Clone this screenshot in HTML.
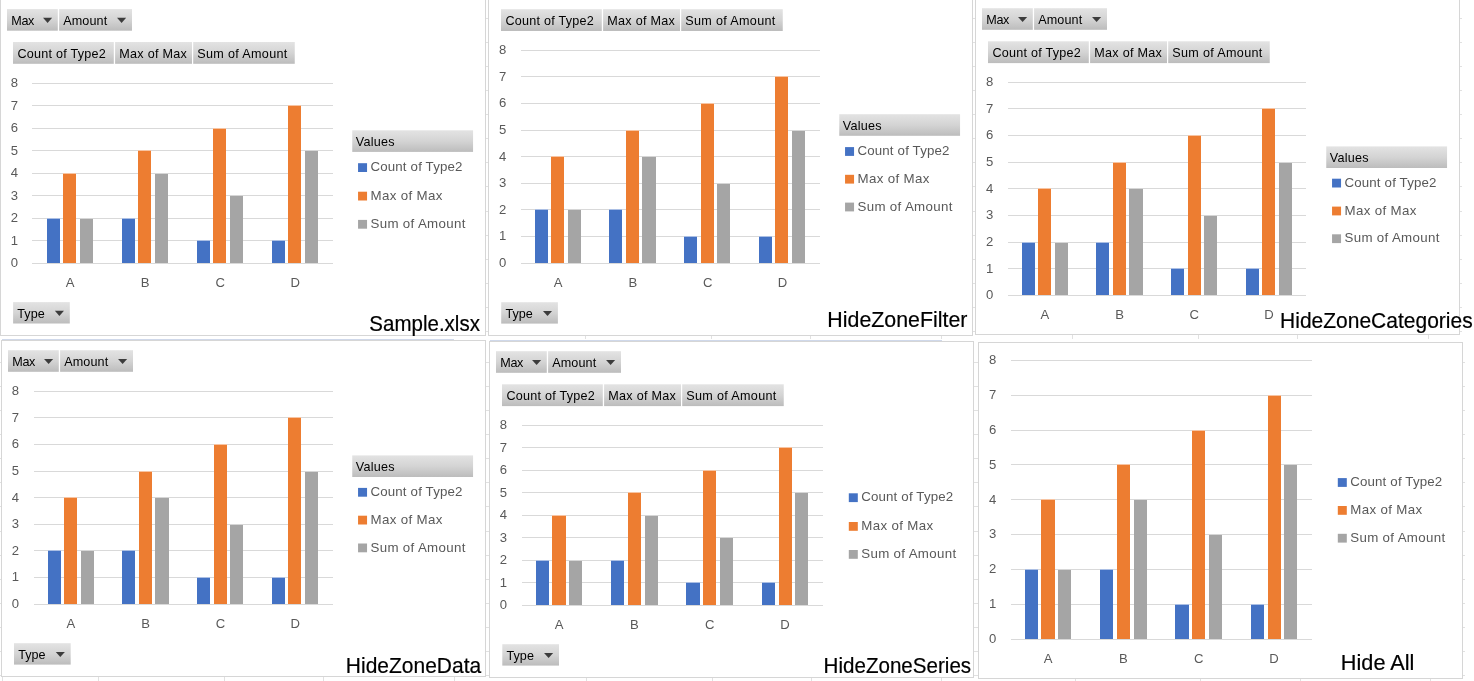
<!DOCTYPE html>
<html lang="en">
<head>
<meta charset="utf-8">
<title>Pivot chart field buttons</title>
<style>
html,body{margin:0;padding:0;background:#fff;}
body{width:1474px;height:681px;overflow:hidden;}
svg{display:block;}
text{font-family:"Liberation Sans","DejaVu Sans",sans-serif;}
.a{font-size:13.1px;fill:#595959;}
.l{font-size:13.3px;fill:#595959;}
.b{font-size:12.6px;fill:#000;}
.t{font-size:21.6px;fill:#000;stroke:#000;stroke-width:0.2px;}
</style>
</head>
<body>
<svg width="1474" height="681" viewBox="0 0 1474 681">
<defs>
<linearGradient id="bg" x1="0" y1="0" x2="0" y2="1">
<stop offset="0" stop-color="#E3E3E3"/>
<stop offset="0.5" stop-color="#D4D4D4"/>
<stop offset="1" stop-color="#BCBCBC"/>
</linearGradient>
</defs>
<rect x="0" y="0" width="1474" height="681" fill="#fff"/>
<rect x="585" y="336" width="1" height="3" fill="#E1E1E1"/>
<rect x="711" y="336" width="1" height="3" fill="#E1E1E1"/>
<rect x="810" y="336" width="1" height="3" fill="#E1E1E1"/>
<rect x="941" y="336" width="1" height="3" fill="#E1E1E1"/>
<rect x="1072" y="335" width="1" height="4" fill="#E1E1E1"/>
<rect x="1198" y="335" width="1" height="4" fill="#E1E1E1"/>
<rect x="1297" y="335" width="1" height="4" fill="#E1E1E1"/>
<rect x="1428" y="335" width="1" height="4" fill="#E1E1E1"/>
<rect x="2" y="677" width="1" height="4" fill="#E1E1E1"/>
<rect x="98" y="677" width="1" height="4" fill="#E1E1E1"/>
<rect x="224" y="677" width="1" height="4" fill="#E1E1E1"/>
<rect x="323" y="677" width="1" height="4" fill="#E1E1E1"/>
<rect x="454" y="677" width="1" height="4" fill="#E1E1E1"/>
<rect x="586" y="678" width="1" height="3" fill="#E1E1E1"/>
<rect x="712" y="678" width="1" height="3" fill="#E1E1E1"/>
<rect x="811" y="678" width="1" height="3" fill="#E1E1E1"/>
<rect x="941" y="678" width="1" height="3" fill="#E1E1E1"/>
<rect x="1075" y="679" width="1" height="2" fill="#E1E1E1"/>
<rect x="1200" y="679" width="1" height="2" fill="#E1E1E1"/>
<rect x="1300" y="679" width="1" height="2" fill="#E1E1E1"/>
<rect x="1430" y="679" width="1" height="2" fill="#E1E1E1"/>
<rect x="0" y="18" width="1462" height="1" fill="#E1E1E1"/>
<rect x="0" y="42" width="1462" height="1" fill="#E1E1E1"/>
<rect x="0" y="66" width="1462" height="1" fill="#E1E1E1"/>
<rect x="0" y="90" width="1462" height="1" fill="#E1E1E1"/>
<rect x="0" y="114" width="1462" height="1" fill="#E1E1E1"/>
<rect x="0" y="138" width="1462" height="1" fill="#E1E1E1"/>
<rect x="0" y="162" width="1462" height="1" fill="#E1E1E1"/>
<rect x="0" y="186" width="1462" height="1" fill="#E1E1E1"/>
<rect x="0" y="211" width="1462" height="1" fill="#E1E1E1"/>
<rect x="0" y="235" width="1462" height="1" fill="#E1E1E1"/>
<rect x="0" y="259" width="1462" height="1" fill="#E1E1E1"/>
<rect x="0" y="283" width="1462" height="1" fill="#E1E1E1"/>
<rect x="0" y="307" width="1462" height="1" fill="#E1E1E1"/>
<rect x="0" y="331" width="1462" height="1" fill="#E1E1E1"/>
<rect x="0" y="362" width="1465" height="1" fill="#E1E1E1"/>
<rect x="0" y="386" width="1465" height="1" fill="#E1E1E1"/>
<rect x="0" y="410" width="1465" height="1" fill="#E1E1E1"/>
<rect x="0" y="434" width="1465" height="1" fill="#E1E1E1"/>
<rect x="0" y="458" width="1465" height="1" fill="#E1E1E1"/>
<rect x="0" y="482" width="1465" height="1" fill="#E1E1E1"/>
<rect x="0" y="506" width="1465" height="1" fill="#E1E1E1"/>
<rect x="0" y="531" width="1465" height="1" fill="#E1E1E1"/>
<rect x="0" y="555" width="1465" height="1" fill="#E1E1E1"/>
<rect x="0" y="579" width="1465" height="1" fill="#E1E1E1"/>
<rect x="0" y="603" width="1465" height="1" fill="#E1E1E1"/>
<rect x="0" y="627" width="1465" height="1" fill="#E1E1E1"/>
<rect x="0" y="651" width="1465" height="1" fill="#E1E1E1"/>
<rect x="0" y="675" width="1465" height="1" fill="#E1E1E1"/>
<rect x="2" y="339" width="452" height="1" fill="#CFD8EA"/>
<rect x="490" y="340" width="452" height="1" fill="#CFD8EA"/>
<rect x="0.5" y="-2" width="485" height="337.5" fill="#fff" stroke="#D6D6D6" stroke-width="1"/>
<rect x="7" y="9.1" width="50.8" height="21.6" fill="url(#bg)"/>
<text x="11.3" y="24.75" class="b" textLength="23" lengthAdjust="spacing">Max</text>
<path d="M43.05 17.85 h9.1 l-4.55 5.1 z" fill="#3C3C3C"/>
<rect x="59.1" y="9.1" width="72.9" height="21.6" fill="url(#bg)"/>
<text x="63.2" y="24.75" class="b" textLength="44" lengthAdjust="spacing">Amount</text>
<path d="M117.05 17.85 h9.1 l-4.55 5.1 z" fill="#3C3C3C"/>
<rect x="13" y="42" width="100.8" height="21.8" fill="url(#bg)"/>
<text x="17.5" y="57.65" class="b" textLength="88.2" lengthAdjust="spacing">Count of Type2</text>
<rect x="115.1" y="42" width="76.9" height="21.8" fill="url(#bg)"/>
<text x="119.3" y="57.65" class="b" textLength="67.5" lengthAdjust="spacing">Max of Max</text>
<rect x="193.2" y="42" width="101.55" height="21.8" fill="url(#bg)"/>
<text x="197.3" y="57.65" class="b" textLength="90" lengthAdjust="spacing">Sum of Amount</text>
<rect x="32" y="263" width="301" height="1" fill="#D9D9D9"/>
<text x="14.5" y="267.3" class="a" text-anchor="middle">0</text>
<rect x="32" y="240" width="301" height="1" fill="#D9D9D9"/>
<text x="14.5" y="244.78" class="a" text-anchor="middle">1</text>
<rect x="32" y="218" width="301" height="1" fill="#D9D9D9"/>
<text x="14.5" y="222.25" class="a" text-anchor="middle">2</text>
<rect x="32" y="195" width="301" height="1" fill="#D9D9D9"/>
<text x="14.5" y="199.73" class="a" text-anchor="middle">3</text>
<rect x="32" y="173" width="301" height="1" fill="#D9D9D9"/>
<text x="14.5" y="177.2" class="a" text-anchor="middle">4</text>
<rect x="32" y="150" width="301" height="1" fill="#D9D9D9"/>
<text x="14.5" y="154.68" class="a" text-anchor="middle">5</text>
<rect x="32" y="128" width="301" height="1" fill="#D9D9D9"/>
<text x="14.5" y="132.15" class="a" text-anchor="middle">6</text>
<rect x="32" y="105" width="301" height="1" fill="#D9D9D9"/>
<text x="14.5" y="109.63" class="a" text-anchor="middle">7</text>
<rect x="32" y="83" width="301" height="1" fill="#D9D9D9"/>
<text x="14.5" y="87.1" class="a" text-anchor="middle">8</text>
<rect x="47" y="218" width="13" height="1" fill="#fff"/>
<rect x="47" y="218" width="13" height="1" fill="#4472C4" fill-opacity="0.45"/>
<rect x="47" y="219" width="13" height="44" fill="#4472C4"/>
<rect x="63" y="173" width="13" height="1" fill="#fff"/>
<rect x="63" y="173" width="13" height="1" fill="#ED7D31" fill-opacity="0.45"/>
<rect x="63" y="174" width="13" height="89" fill="#ED7D31"/>
<rect x="80" y="218" width="13" height="1" fill="#fff"/>
<rect x="80" y="218" width="13" height="1" fill="#A5A5A5" fill-opacity="0.45"/>
<rect x="80" y="219" width="13" height="44" fill="#A5A5A5"/>
<text x="70.03" y="287.4" class="a" text-anchor="middle">A</text>
<rect x="122" y="218" width="13" height="1" fill="#fff"/>
<rect x="122" y="218" width="13" height="1" fill="#4472C4" fill-opacity="0.45"/>
<rect x="122" y="219" width="13" height="44" fill="#4472C4"/>
<rect x="138" y="150" width="13" height="1" fill="#fff"/>
<rect x="138" y="150" width="13" height="1" fill="#ED7D31" fill-opacity="0.45"/>
<rect x="138" y="151" width="13" height="112" fill="#ED7D31"/>
<rect x="155" y="173" width="13" height="1" fill="#fff"/>
<rect x="155" y="173" width="13" height="1" fill="#A5A5A5" fill-opacity="0.45"/>
<rect x="155" y="174" width="13" height="89" fill="#A5A5A5"/>
<text x="145.09" y="287.4" class="a" text-anchor="middle">B</text>
<rect x="197" y="240" width="13" height="1" fill="#fff"/>
<rect x="197" y="240" width="13" height="1" fill="#4472C4" fill-opacity="0.45"/>
<rect x="197" y="241" width="13" height="22" fill="#4472C4"/>
<rect x="213" y="128" width="13" height="1" fill="#fff"/>
<rect x="213" y="128" width="13" height="1" fill="#ED7D31" fill-opacity="0.45"/>
<rect x="213" y="129" width="13" height="134" fill="#ED7D31"/>
<rect x="230" y="195" width="13" height="1" fill="#fff"/>
<rect x="230" y="195" width="13" height="1" fill="#A5A5A5" fill-opacity="0.45"/>
<rect x="230" y="196" width="13" height="67" fill="#A5A5A5"/>
<text x="220.16" y="287.4" class="a" text-anchor="middle">C</text>
<rect x="272" y="240" width="13" height="1" fill="#fff"/>
<rect x="272" y="240" width="13" height="1" fill="#4472C4" fill-opacity="0.45"/>
<rect x="272" y="241" width="13" height="22" fill="#4472C4"/>
<rect x="288" y="105" width="13" height="1" fill="#fff"/>
<rect x="288" y="105" width="13" height="1" fill="#ED7D31" fill-opacity="0.45"/>
<rect x="288" y="106" width="13" height="157" fill="#ED7D31"/>
<rect x="305" y="150" width="13" height="1" fill="#fff"/>
<rect x="305" y="150" width="13" height="1" fill="#A5A5A5" fill-opacity="0.45"/>
<rect x="305" y="151" width="13" height="112" fill="#A5A5A5"/>
<text x="295.22" y="287.4" class="a" text-anchor="middle">D</text>
<rect x="352.25" y="130.3" width="120.8" height="21.6" fill="url(#bg)"/>
<text x="355.85" y="146.2" class="b" textLength="38.6" lengthAdjust="spacing">Values</text>
<rect x="358.05" y="163.2" width="9" height="8.8" fill="#4472C4"/>
<text x="370.45" y="171.2" class="l" textLength="92" lengthAdjust="spacing">Count of Type2</text>
<rect x="358.05" y="191.7" width="9" height="8.8" fill="#ED7D31"/>
<text x="370.45" y="199.7" class="l" textLength="72" lengthAdjust="spacing">Max of Max</text>
<rect x="358.05" y="219.9" width="9" height="8.8" fill="#A5A5A5"/>
<text x="370.45" y="227.9" class="l" textLength="95" lengthAdjust="spacing">Sum of Amount</text>
<rect x="13.1" y="302.1" width="56.7" height="21.4" fill="url(#bg)"/>
<text x="17.3" y="317.75" class="b" textLength="27.4" lengthAdjust="spacing">Type</text>
<path d="M54.85 310.85 h9.1 l-4.55 5.1 z" fill="#3C3C3C"/>
<text x="369.35" y="331" class="t" textLength="110.55" lengthAdjust="spacingAndGlyphs">Sample.xlsx</text>
<rect x="488.5" y="-2" width="484" height="337.5" fill="#fff" stroke="#D6D6D6" stroke-width="1"/>
<rect x="501" y="9.2" width="100.8" height="21.8" fill="url(#bg)"/>
<text x="505.5" y="24.85" class="b" textLength="88.2" lengthAdjust="spacing">Count of Type2</text>
<rect x="603.1" y="9.2" width="76.9" height="21.8" fill="url(#bg)"/>
<text x="607.3" y="24.85" class="b" textLength="67.5" lengthAdjust="spacing">Max of Max</text>
<rect x="681.2" y="9.2" width="101.55" height="21.8" fill="url(#bg)"/>
<text x="685.3" y="24.85" class="b" textLength="90" lengthAdjust="spacing">Sum of Amount</text>
<rect x="521" y="263" width="299" height="1" fill="#D9D9D9"/>
<text x="502.7" y="267" class="a" text-anchor="middle">0</text>
<rect x="521" y="236" width="299" height="1" fill="#D9D9D9"/>
<text x="502.7" y="240.39" class="a" text-anchor="middle">1</text>
<rect x="521" y="209" width="299" height="1" fill="#D9D9D9"/>
<text x="502.7" y="213.78" class="a" text-anchor="middle">2</text>
<rect x="521" y="183" width="299" height="1" fill="#D9D9D9"/>
<text x="502.7" y="187.16" class="a" text-anchor="middle">3</text>
<rect x="521" y="156" width="299" height="1" fill="#D9D9D9"/>
<text x="502.7" y="160.55" class="a" text-anchor="middle">4</text>
<rect x="521" y="130" width="299" height="1" fill="#D9D9D9"/>
<text x="502.7" y="133.94" class="a" text-anchor="middle">5</text>
<rect x="521" y="103" width="299" height="1" fill="#D9D9D9"/>
<text x="502.7" y="107.33" class="a" text-anchor="middle">6</text>
<rect x="521" y="76" width="299" height="1" fill="#D9D9D9"/>
<text x="502.7" y="80.71" class="a" text-anchor="middle">7</text>
<rect x="521" y="50" width="299" height="1" fill="#D9D9D9"/>
<text x="502.7" y="54.1" class="a" text-anchor="middle">8</text>
<rect x="535" y="209" width="13" height="1" fill="#fff"/>
<rect x="535" y="209" width="13" height="1" fill="#4472C4" fill-opacity="0.45"/>
<rect x="535" y="210" width="13" height="53" fill="#4472C4"/>
<rect x="551" y="156" width="13" height="1" fill="#fff"/>
<rect x="551" y="156" width="13" height="1" fill="#ED7D31" fill-opacity="0.45"/>
<rect x="551" y="157" width="13" height="106" fill="#ED7D31"/>
<rect x="568" y="209" width="13" height="1" fill="#fff"/>
<rect x="568" y="209" width="13" height="1" fill="#A5A5A5" fill-opacity="0.45"/>
<rect x="568" y="210" width="13" height="53" fill="#A5A5A5"/>
<text x="558.08" y="287.2" class="a" text-anchor="middle">A</text>
<rect x="609" y="209" width="13" height="1" fill="#fff"/>
<rect x="609" y="209" width="13" height="1" fill="#4472C4" fill-opacity="0.45"/>
<rect x="609" y="210" width="13" height="53" fill="#4472C4"/>
<rect x="626" y="130" width="13" height="1" fill="#fff"/>
<rect x="626" y="130" width="13" height="1" fill="#ED7D31" fill-opacity="0.45"/>
<rect x="626" y="131" width="13" height="132" fill="#ED7D31"/>
<rect x="642" y="156" width="14" height="1" fill="#fff"/>
<rect x="642" y="156" width="14" height="1" fill="#A5A5A5" fill-opacity="0.45"/>
<rect x="642" y="157" width="14" height="106" fill="#A5A5A5"/>
<text x="632.84" y="287.2" class="a" text-anchor="middle">B</text>
<rect x="684" y="236" width="13" height="1" fill="#fff"/>
<rect x="684" y="236" width="13" height="1" fill="#4472C4" fill-opacity="0.45"/>
<rect x="684" y="237" width="13" height="26" fill="#4472C4"/>
<rect x="701" y="103" width="13" height="1" fill="#fff"/>
<rect x="701" y="103" width="13" height="1" fill="#ED7D31" fill-opacity="0.45"/>
<rect x="701" y="104" width="13" height="159" fill="#ED7D31"/>
<rect x="717" y="183" width="13" height="1" fill="#fff"/>
<rect x="717" y="183" width="13" height="1" fill="#A5A5A5" fill-opacity="0.45"/>
<rect x="717" y="184" width="13" height="79" fill="#A5A5A5"/>
<text x="707.61" y="287.2" class="a" text-anchor="middle">C</text>
<rect x="759" y="236" width="13" height="1" fill="#fff"/>
<rect x="759" y="236" width="13" height="1" fill="#4472C4" fill-opacity="0.45"/>
<rect x="759" y="237" width="13" height="26" fill="#4472C4"/>
<rect x="775" y="76" width="13" height="1" fill="#fff"/>
<rect x="775" y="76" width="13" height="1" fill="#ED7D31" fill-opacity="0.45"/>
<rect x="775" y="77" width="13" height="186" fill="#ED7D31"/>
<rect x="792" y="130" width="13" height="1" fill="#fff"/>
<rect x="792" y="130" width="13" height="1" fill="#A5A5A5" fill-opacity="0.45"/>
<rect x="792" y="131" width="13" height="132" fill="#A5A5A5"/>
<text x="782.37" y="287.2" class="a" text-anchor="middle">D</text>
<rect x="839.25" y="114.2" width="120.8" height="21.6" fill="url(#bg)"/>
<text x="842.85" y="130.1" class="b" textLength="38.6" lengthAdjust="spacing">Values</text>
<rect x="845.05" y="147.1" width="9" height="8.8" fill="#4472C4"/>
<text x="857.45" y="155.1" class="l" textLength="92" lengthAdjust="spacing">Count of Type2</text>
<rect x="845.05" y="174.8" width="9" height="8.8" fill="#ED7D31"/>
<text x="857.45" y="182.8" class="l" textLength="72" lengthAdjust="spacing">Max of Max</text>
<rect x="845.05" y="202.6" width="9" height="8.8" fill="#A5A5A5"/>
<text x="857.45" y="210.6" class="l" textLength="95" lengthAdjust="spacing">Sum of Amount</text>
<rect x="501.2" y="302.2" width="56.7" height="21.4" fill="url(#bg)"/>
<text x="505.4" y="317.85" class="b" textLength="27.4" lengthAdjust="spacing">Type</text>
<path d="M542.95 310.95 h9.1 l-4.55 5.1 z" fill="#3C3C3C"/>
<text x="827.35" y="327" class="t" textLength="140.05" lengthAdjust="spacingAndGlyphs">HideZoneFilter</text>
<rect x="975.5" y="-2" width="484" height="336.5" fill="#fff" stroke="#D6D6D6" stroke-width="1"/>
<rect x="982" y="8.2" width="50.8" height="21.6" fill="url(#bg)"/>
<text x="986.3" y="23.85" class="b" textLength="23" lengthAdjust="spacing">Max</text>
<path d="M1018.05 16.95 h9.1 l-4.55 5.1 z" fill="#3C3C3C"/>
<rect x="1034.1" y="8.2" width="72.9" height="21.6" fill="url(#bg)"/>
<text x="1038.2" y="23.85" class="b" textLength="44" lengthAdjust="spacing">Amount</text>
<path d="M1092.05 16.95 h9.1 l-4.55 5.1 z" fill="#3C3C3C"/>
<rect x="988" y="41.3" width="100.8" height="21.8" fill="url(#bg)"/>
<text x="992.5" y="56.95" class="b" textLength="88.2" lengthAdjust="spacing">Count of Type2</text>
<rect x="1090.1" y="41.3" width="76.9" height="21.8" fill="url(#bg)"/>
<text x="1094.3" y="56.95" class="b" textLength="67.5" lengthAdjust="spacing">Max of Max</text>
<rect x="1168.2" y="41.3" width="101.55" height="21.8" fill="url(#bg)"/>
<text x="1172.3" y="56.95" class="b" textLength="90" lengthAdjust="spacing">Sum of Amount</text>
<rect x="1008" y="295" width="298" height="1" fill="#D9D9D9"/>
<text x="989.6" y="299.2" class="a" text-anchor="middle">0</text>
<rect x="1008" y="268" width="298" height="1" fill="#D9D9D9"/>
<text x="989.6" y="272.56" class="a" text-anchor="middle">1</text>
<rect x="1008" y="242" width="298" height="1" fill="#D9D9D9"/>
<text x="989.6" y="245.93" class="a" text-anchor="middle">2</text>
<rect x="1008" y="215" width="298" height="1" fill="#D9D9D9"/>
<text x="989.6" y="219.29" class="a" text-anchor="middle">3</text>
<rect x="1008" y="188" width="298" height="1" fill="#D9D9D9"/>
<text x="989.6" y="192.65" class="a" text-anchor="middle">4</text>
<rect x="1008" y="162" width="298" height="1" fill="#D9D9D9"/>
<text x="989.6" y="166.01" class="a" text-anchor="middle">5</text>
<rect x="1008" y="135" width="298" height="1" fill="#D9D9D9"/>
<text x="989.6" y="139.38" class="a" text-anchor="middle">6</text>
<rect x="1008" y="108" width="298" height="1" fill="#D9D9D9"/>
<text x="989.6" y="112.74" class="a" text-anchor="middle">7</text>
<rect x="1008" y="82" width="298" height="1" fill="#D9D9D9"/>
<text x="989.6" y="86.1" class="a" text-anchor="middle">8</text>
<rect x="1022" y="242" width="13" height="1" fill="#fff"/>
<rect x="1022" y="242" width="13" height="1" fill="#4472C4" fill-opacity="0.45"/>
<rect x="1022" y="243" width="13" height="52" fill="#4472C4"/>
<rect x="1038" y="188" width="13" height="1" fill="#fff"/>
<rect x="1038" y="188" width="13" height="1" fill="#ED7D31" fill-opacity="0.45"/>
<rect x="1038" y="189" width="13" height="106" fill="#ED7D31"/>
<rect x="1055" y="242" width="13" height="1" fill="#fff"/>
<rect x="1055" y="242" width="13" height="1" fill="#A5A5A5" fill-opacity="0.45"/>
<rect x="1055" y="243" width="13" height="52" fill="#A5A5A5"/>
<text x="1044.95" y="319.1" class="a" text-anchor="middle">A</text>
<rect x="1096" y="242" width="13" height="1" fill="#fff"/>
<rect x="1096" y="242" width="13" height="1" fill="#4472C4" fill-opacity="0.45"/>
<rect x="1096" y="243" width="13" height="52" fill="#4472C4"/>
<rect x="1113" y="162" width="13" height="1" fill="#fff"/>
<rect x="1113" y="162" width="13" height="1" fill="#ED7D31" fill-opacity="0.45"/>
<rect x="1113" y="163" width="13" height="132" fill="#ED7D31"/>
<rect x="1129" y="188" width="14" height="1" fill="#fff"/>
<rect x="1129" y="188" width="14" height="1" fill="#A5A5A5" fill-opacity="0.45"/>
<rect x="1129" y="189" width="14" height="106" fill="#A5A5A5"/>
<text x="1119.65" y="319.1" class="a" text-anchor="middle">B</text>
<rect x="1171" y="268" width="13" height="1" fill="#fff"/>
<rect x="1171" y="268" width="13" height="1" fill="#4472C4" fill-opacity="0.45"/>
<rect x="1171" y="269" width="13" height="26" fill="#4472C4"/>
<rect x="1188" y="135" width="13" height="1" fill="#fff"/>
<rect x="1188" y="135" width="13" height="1" fill="#ED7D31" fill-opacity="0.45"/>
<rect x="1188" y="136" width="13" height="159" fill="#ED7D31"/>
<rect x="1204" y="215" width="13" height="1" fill="#fff"/>
<rect x="1204" y="215" width="13" height="1" fill="#A5A5A5" fill-opacity="0.45"/>
<rect x="1204" y="216" width="13" height="79" fill="#A5A5A5"/>
<text x="1194.35" y="319.1" class="a" text-anchor="middle">C</text>
<rect x="1246" y="268" width="13" height="1" fill="#fff"/>
<rect x="1246" y="268" width="13" height="1" fill="#4472C4" fill-opacity="0.45"/>
<rect x="1246" y="269" width="13" height="26" fill="#4472C4"/>
<rect x="1262" y="108" width="13" height="1" fill="#fff"/>
<rect x="1262" y="108" width="13" height="1" fill="#ED7D31" fill-opacity="0.45"/>
<rect x="1262" y="109" width="13" height="186" fill="#ED7D31"/>
<rect x="1279" y="162" width="13" height="1" fill="#fff"/>
<rect x="1279" y="162" width="13" height="1" fill="#A5A5A5" fill-opacity="0.45"/>
<rect x="1279" y="163" width="13" height="132" fill="#A5A5A5"/>
<text x="1269.05" y="319.1" class="a" text-anchor="middle">D</text>
<rect x="1326.25" y="146.4" width="120.8" height="21.6" fill="url(#bg)"/>
<text x="1329.85" y="162.3" class="b" textLength="38.6" lengthAdjust="spacing">Values</text>
<rect x="1332.05" y="178.7" width="9" height="8.8" fill="#4472C4"/>
<text x="1344.45" y="186.7" class="l" textLength="92" lengthAdjust="spacing">Count of Type2</text>
<rect x="1332.05" y="206.6" width="9" height="8.8" fill="#ED7D31"/>
<text x="1344.45" y="214.6" class="l" textLength="72" lengthAdjust="spacing">Max of Max</text>
<rect x="1332.05" y="234.3" width="9" height="8.8" fill="#A5A5A5"/>
<text x="1344.45" y="242.3" class="l" textLength="95" lengthAdjust="spacing">Sum of Amount</text>
<text x="1280.1" y="328" class="t" textLength="192.55" lengthAdjust="spacingAndGlyphs">HideZoneCategories</text>
<rect x="1.5" y="340.5" width="484" height="336" fill="#fff" stroke="#D6D6D6" stroke-width="1"/>
<rect x="8" y="350.2" width="50.8" height="21.6" fill="url(#bg)"/>
<text x="12.3" y="365.85" class="b" textLength="23" lengthAdjust="spacing">Max</text>
<path d="M44.05 358.95 h9.1 l-4.55 5.1 z" fill="#3C3C3C"/>
<rect x="60.1" y="350.2" width="72.9" height="21.6" fill="url(#bg)"/>
<text x="64.2" y="365.85" class="b" textLength="44" lengthAdjust="spacing">Amount</text>
<path d="M118.05 358.95 h9.1 l-4.55 5.1 z" fill="#3C3C3C"/>
<rect x="34" y="604" width="299" height="1" fill="#D9D9D9"/>
<text x="15.5" y="608" class="a" text-anchor="middle">0</text>
<rect x="34" y="577" width="299" height="1" fill="#D9D9D9"/>
<text x="15.5" y="581.39" class="a" text-anchor="middle">1</text>
<rect x="34" y="550" width="299" height="1" fill="#D9D9D9"/>
<text x="15.5" y="554.77" class="a" text-anchor="middle">2</text>
<rect x="34" y="524" width="299" height="1" fill="#D9D9D9"/>
<text x="15.5" y="528.16" class="a" text-anchor="middle">3</text>
<rect x="34" y="497" width="299" height="1" fill="#D9D9D9"/>
<text x="15.5" y="501.55" class="a" text-anchor="middle">4</text>
<rect x="34" y="471" width="299" height="1" fill="#D9D9D9"/>
<text x="15.5" y="474.94" class="a" text-anchor="middle">5</text>
<rect x="34" y="444" width="299" height="1" fill="#D9D9D9"/>
<text x="15.5" y="448.33" class="a" text-anchor="middle">6</text>
<rect x="34" y="417" width="299" height="1" fill="#D9D9D9"/>
<text x="15.5" y="421.71" class="a" text-anchor="middle">7</text>
<rect x="34" y="391" width="299" height="1" fill="#D9D9D9"/>
<text x="15.5" y="395.1" class="a" text-anchor="middle">8</text>
<rect x="48" y="550" width="13" height="1" fill="#fff"/>
<rect x="48" y="550" width="13" height="1" fill="#4472C4" fill-opacity="0.45"/>
<rect x="48" y="551" width="13" height="53" fill="#4472C4"/>
<rect x="64" y="497" width="13" height="1" fill="#fff"/>
<rect x="64" y="497" width="13" height="1" fill="#ED7D31" fill-opacity="0.45"/>
<rect x="64" y="498" width="13" height="106" fill="#ED7D31"/>
<rect x="81" y="550" width="13" height="1" fill="#fff"/>
<rect x="81" y="550" width="13" height="1" fill="#A5A5A5" fill-opacity="0.45"/>
<rect x="81" y="551" width="13" height="53" fill="#A5A5A5"/>
<text x="70.91" y="628.2" class="a" text-anchor="middle">A</text>
<rect x="122" y="550" width="13" height="1" fill="#fff"/>
<rect x="122" y="550" width="13" height="1" fill="#4472C4" fill-opacity="0.45"/>
<rect x="122" y="551" width="13" height="53" fill="#4472C4"/>
<rect x="139" y="471" width="13" height="1" fill="#fff"/>
<rect x="139" y="471" width="13" height="1" fill="#ED7D31" fill-opacity="0.45"/>
<rect x="139" y="472" width="13" height="132" fill="#ED7D31"/>
<rect x="155" y="497" width="14" height="1" fill="#fff"/>
<rect x="155" y="497" width="14" height="1" fill="#A5A5A5" fill-opacity="0.45"/>
<rect x="155" y="498" width="14" height="106" fill="#A5A5A5"/>
<text x="145.72" y="628.2" class="a" text-anchor="middle">B</text>
<rect x="197" y="577" width="13" height="1" fill="#fff"/>
<rect x="197" y="577" width="13" height="1" fill="#4472C4" fill-opacity="0.45"/>
<rect x="197" y="578" width="13" height="26" fill="#4472C4"/>
<rect x="214" y="444" width="13" height="1" fill="#fff"/>
<rect x="214" y="444" width="13" height="1" fill="#ED7D31" fill-opacity="0.45"/>
<rect x="214" y="445" width="13" height="159" fill="#ED7D31"/>
<rect x="230" y="524" width="13" height="1" fill="#fff"/>
<rect x="230" y="524" width="13" height="1" fill="#A5A5A5" fill-opacity="0.45"/>
<rect x="230" y="525" width="13" height="79" fill="#A5A5A5"/>
<text x="220.53" y="628.2" class="a" text-anchor="middle">C</text>
<rect x="272" y="577" width="13" height="1" fill="#fff"/>
<rect x="272" y="577" width="13" height="1" fill="#4472C4" fill-opacity="0.45"/>
<rect x="272" y="578" width="13" height="26" fill="#4472C4"/>
<rect x="288" y="417" width="13" height="1" fill="#fff"/>
<rect x="288" y="417" width="13" height="1" fill="#ED7D31" fill-opacity="0.45"/>
<rect x="288" y="418" width="13" height="186" fill="#ED7D31"/>
<rect x="305" y="471" width="13" height="1" fill="#fff"/>
<rect x="305" y="471" width="13" height="1" fill="#A5A5A5" fill-opacity="0.45"/>
<rect x="305" y="472" width="13" height="132" fill="#A5A5A5"/>
<text x="295.34" y="628.2" class="a" text-anchor="middle">D</text>
<rect x="352.25" y="455.4" width="120.8" height="21.6" fill="url(#bg)"/>
<text x="355.85" y="471.3" class="b" textLength="38.6" lengthAdjust="spacing">Values</text>
<rect x="358.05" y="487.9" width="9" height="8.8" fill="#4472C4"/>
<text x="370.45" y="495.9" class="l" textLength="92" lengthAdjust="spacing">Count of Type2</text>
<rect x="358.05" y="515.7" width="9" height="8.8" fill="#ED7D31"/>
<text x="370.45" y="523.7" class="l" textLength="72" lengthAdjust="spacing">Max of Max</text>
<rect x="358.05" y="543.5" width="9" height="8.8" fill="#A5A5A5"/>
<text x="370.45" y="551.5" class="l" textLength="95" lengthAdjust="spacing">Sum of Amount</text>
<rect x="14" y="643.2" width="56.7" height="21.4" fill="url(#bg)"/>
<text x="18.2" y="658.85" class="b" textLength="27.4" lengthAdjust="spacing">Type</text>
<path d="M55.75 651.95 h9.1 l-4.55 5.1 z" fill="#3C3C3C"/>
<text x="345.85" y="673" class="t" textLength="135.3" lengthAdjust="spacingAndGlyphs">HideZoneData</text>
<rect x="489.5" y="341.5" width="484" height="336" fill="#fff" stroke="#D6D6D6" stroke-width="1"/>
<rect x="496" y="351.2" width="50.8" height="21.6" fill="url(#bg)"/>
<text x="500.3" y="366.85" class="b" textLength="23" lengthAdjust="spacing">Max</text>
<path d="M532.05 359.95 h9.1 l-4.55 5.1 z" fill="#3C3C3C"/>
<rect x="548.1" y="351.2" width="72.9" height="21.6" fill="url(#bg)"/>
<text x="552.2" y="366.85" class="b" textLength="44" lengthAdjust="spacing">Amount</text>
<path d="M606.05 359.95 h9.1 l-4.55 5.1 z" fill="#3C3C3C"/>
<rect x="502" y="384.3" width="100.8" height="21.8" fill="url(#bg)"/>
<text x="506.5" y="399.95" class="b" textLength="88.2" lengthAdjust="spacing">Count of Type2</text>
<rect x="604.1" y="384.3" width="76.9" height="21.8" fill="url(#bg)"/>
<text x="608.3" y="399.95" class="b" textLength="67.5" lengthAdjust="spacing">Max of Max</text>
<rect x="682.2" y="384.3" width="101.55" height="21.8" fill="url(#bg)"/>
<text x="686.3" y="399.95" class="b" textLength="90" lengthAdjust="spacing">Sum of Amount</text>
<rect x="522" y="605" width="301" height="1" fill="#D9D9D9"/>
<text x="503.5" y="609.2" class="a" text-anchor="middle">0</text>
<rect x="522" y="582" width="301" height="1" fill="#D9D9D9"/>
<text x="503.5" y="586.69" class="a" text-anchor="middle">1</text>
<rect x="522" y="560" width="301" height="1" fill="#D9D9D9"/>
<text x="503.5" y="564.17" class="a" text-anchor="middle">2</text>
<rect x="522" y="537" width="301" height="1" fill="#D9D9D9"/>
<text x="503.5" y="541.66" class="a" text-anchor="middle">3</text>
<rect x="522" y="515" width="301" height="1" fill="#D9D9D9"/>
<text x="503.5" y="519.15" class="a" text-anchor="middle">4</text>
<rect x="522" y="492" width="301" height="1" fill="#D9D9D9"/>
<text x="503.5" y="496.64" class="a" text-anchor="middle">5</text>
<rect x="522" y="470" width="301" height="1" fill="#D9D9D9"/>
<text x="503.5" y="474.12" class="a" text-anchor="middle">6</text>
<rect x="522" y="447" width="301" height="1" fill="#D9D9D9"/>
<text x="503.5" y="451.61" class="a" text-anchor="middle">7</text>
<rect x="522" y="425" width="301" height="1" fill="#D9D9D9"/>
<text x="503.5" y="429.1" class="a" text-anchor="middle">8</text>
<rect x="536" y="560" width="13" height="1" fill="#fff"/>
<rect x="536" y="560" width="13" height="1" fill="#4472C4" fill-opacity="0.45"/>
<rect x="536" y="561" width="13" height="44" fill="#4472C4"/>
<rect x="552" y="515" width="14" height="1" fill="#fff"/>
<rect x="552" y="515" width="14" height="1" fill="#ED7D31" fill-opacity="0.45"/>
<rect x="552" y="516" width="14" height="89" fill="#ED7D31"/>
<rect x="569" y="560" width="13" height="1" fill="#fff"/>
<rect x="569" y="560" width="13" height="1" fill="#A5A5A5" fill-opacity="0.45"/>
<rect x="569" y="561" width="13" height="44" fill="#A5A5A5"/>
<text x="559.16" y="629.3" class="a" text-anchor="middle">A</text>
<rect x="611" y="560" width="13" height="1" fill="#fff"/>
<rect x="611" y="560" width="13" height="1" fill="#4472C4" fill-opacity="0.45"/>
<rect x="611" y="561" width="13" height="44" fill="#4472C4"/>
<rect x="628" y="492" width="13" height="1" fill="#fff"/>
<rect x="628" y="492" width="13" height="1" fill="#ED7D31" fill-opacity="0.45"/>
<rect x="628" y="493" width="13" height="112" fill="#ED7D31"/>
<rect x="645" y="515" width="13" height="1" fill="#fff"/>
<rect x="645" y="515" width="13" height="1" fill="#A5A5A5" fill-opacity="0.45"/>
<rect x="645" y="516" width="13" height="89" fill="#A5A5A5"/>
<text x="634.47" y="629.3" class="a" text-anchor="middle">B</text>
<rect x="686" y="582" width="14" height="1" fill="#fff"/>
<rect x="686" y="582" width="14" height="1" fill="#4472C4" fill-opacity="0.45"/>
<rect x="686" y="583" width="14" height="22" fill="#4472C4"/>
<rect x="703" y="470" width="13" height="1" fill="#fff"/>
<rect x="703" y="470" width="13" height="1" fill="#ED7D31" fill-opacity="0.45"/>
<rect x="703" y="471" width="13" height="134" fill="#ED7D31"/>
<rect x="720" y="537" width="13" height="1" fill="#fff"/>
<rect x="720" y="537" width="13" height="1" fill="#A5A5A5" fill-opacity="0.45"/>
<rect x="720" y="538" width="13" height="67" fill="#A5A5A5"/>
<text x="709.78" y="629.3" class="a" text-anchor="middle">C</text>
<rect x="762" y="582" width="13" height="1" fill="#fff"/>
<rect x="762" y="582" width="13" height="1" fill="#4472C4" fill-opacity="0.45"/>
<rect x="762" y="583" width="13" height="22" fill="#4472C4"/>
<rect x="779" y="447" width="13" height="1" fill="#fff"/>
<rect x="779" y="447" width="13" height="1" fill="#ED7D31" fill-opacity="0.45"/>
<rect x="779" y="448" width="13" height="157" fill="#ED7D31"/>
<rect x="795" y="492" width="13" height="1" fill="#fff"/>
<rect x="795" y="492" width="13" height="1" fill="#A5A5A5" fill-opacity="0.45"/>
<rect x="795" y="493" width="13" height="112" fill="#A5A5A5"/>
<text x="785.09" y="629.3" class="a" text-anchor="middle">D</text>
<rect x="848.8" y="493.3" width="9" height="8.8" fill="#4472C4"/>
<text x="861.2" y="501.3" class="l" textLength="92" lengthAdjust="spacing">Count of Type2</text>
<rect x="848.8" y="522" width="9" height="8.8" fill="#ED7D31"/>
<text x="861.2" y="530" class="l" textLength="72" lengthAdjust="spacing">Max of Max</text>
<rect x="848.8" y="550" width="9" height="8.8" fill="#A5A5A5"/>
<text x="861.2" y="558" class="l" textLength="95" lengthAdjust="spacing">Sum of Amount</text>
<rect x="502.3" y="644.2" width="56.7" height="21.4" fill="url(#bg)"/>
<text x="506.5" y="659.85" class="b" textLength="27.4" lengthAdjust="spacing">Type</text>
<path d="M544.05 652.95 h9.1 l-4.55 5.1 z" fill="#3C3C3C"/>
<text x="823.6" y="673" class="t" textLength="147.55" lengthAdjust="spacingAndGlyphs">HideZoneSeries</text>
<rect x="978.5" y="342.5" width="484" height="336" fill="#fff" stroke="#D6D6D6" stroke-width="1"/>
<rect x="1011" y="639" width="301" height="1" fill="#D9D9D9"/>
<text x="992.6" y="643.1" class="a" text-anchor="middle">0</text>
<rect x="1011" y="604" width="301" height="1" fill="#D9D9D9"/>
<text x="992.6" y="608.22" class="a" text-anchor="middle">1</text>
<rect x="1011" y="569" width="301" height="1" fill="#D9D9D9"/>
<text x="992.6" y="573.35" class="a" text-anchor="middle">2</text>
<rect x="1011" y="534" width="301" height="1" fill="#D9D9D9"/>
<text x="992.6" y="538.47" class="a" text-anchor="middle">3</text>
<rect x="1011" y="499" width="301" height="1" fill="#D9D9D9"/>
<text x="992.6" y="503.6" class="a" text-anchor="middle">4</text>
<rect x="1011" y="464" width="301" height="1" fill="#D9D9D9"/>
<text x="992.6" y="468.72" class="a" text-anchor="middle">5</text>
<rect x="1011" y="430" width="301" height="1" fill="#D9D9D9"/>
<text x="992.6" y="433.85" class="a" text-anchor="middle">6</text>
<rect x="1011" y="395" width="301" height="1" fill="#D9D9D9"/>
<text x="992.6" y="398.98" class="a" text-anchor="middle">7</text>
<rect x="1011" y="360" width="301" height="1" fill="#D9D9D9"/>
<text x="992.6" y="364.1" class="a" text-anchor="middle">8</text>
<rect x="1025" y="569" width="13" height="1" fill="#fff"/>
<rect x="1025" y="569" width="13" height="1" fill="#4472C4" fill-opacity="0.45"/>
<rect x="1025" y="570" width="13" height="69" fill="#4472C4"/>
<rect x="1041" y="499" width="14" height="1" fill="#fff"/>
<rect x="1041" y="499" width="14" height="1" fill="#ED7D31" fill-opacity="0.45"/>
<rect x="1041" y="500" width="14" height="139" fill="#ED7D31"/>
<rect x="1058" y="569" width="13" height="1" fill="#fff"/>
<rect x="1058" y="569" width="13" height="1" fill="#A5A5A5" fill-opacity="0.45"/>
<rect x="1058" y="570" width="13" height="69" fill="#A5A5A5"/>
<text x="1048.22" y="663.2" class="a" text-anchor="middle">A</text>
<rect x="1100" y="569" width="13" height="1" fill="#fff"/>
<rect x="1100" y="569" width="13" height="1" fill="#4472C4" fill-opacity="0.45"/>
<rect x="1100" y="570" width="13" height="69" fill="#4472C4"/>
<rect x="1117" y="464" width="13" height="1" fill="#fff"/>
<rect x="1117" y="464" width="13" height="1" fill="#ED7D31" fill-opacity="0.45"/>
<rect x="1117" y="465" width="13" height="174" fill="#ED7D31"/>
<rect x="1134" y="499" width="13" height="1" fill="#fff"/>
<rect x="1134" y="499" width="13" height="1" fill="#A5A5A5" fill-opacity="0.45"/>
<rect x="1134" y="500" width="13" height="139" fill="#A5A5A5"/>
<text x="1123.47" y="663.2" class="a" text-anchor="middle">B</text>
<rect x="1175" y="604" width="14" height="1" fill="#fff"/>
<rect x="1175" y="604" width="14" height="1" fill="#4472C4" fill-opacity="0.45"/>
<rect x="1175" y="605" width="14" height="34" fill="#4472C4"/>
<rect x="1192" y="430" width="13" height="1" fill="#fff"/>
<rect x="1192" y="430" width="13" height="1" fill="#ED7D31" fill-opacity="0.45"/>
<rect x="1192" y="431" width="13" height="208" fill="#ED7D31"/>
<rect x="1209" y="534" width="13" height="1" fill="#fff"/>
<rect x="1209" y="534" width="13" height="1" fill="#A5A5A5" fill-opacity="0.45"/>
<rect x="1209" y="535" width="13" height="104" fill="#A5A5A5"/>
<text x="1198.72" y="663.2" class="a" text-anchor="middle">C</text>
<rect x="1251" y="604" width="13" height="1" fill="#fff"/>
<rect x="1251" y="604" width="13" height="1" fill="#4472C4" fill-opacity="0.45"/>
<rect x="1251" y="605" width="13" height="34" fill="#4472C4"/>
<rect x="1268" y="395" width="13" height="1" fill="#fff"/>
<rect x="1268" y="395" width="13" height="1" fill="#ED7D31" fill-opacity="0.45"/>
<rect x="1268" y="396" width="13" height="243" fill="#ED7D31"/>
<rect x="1284" y="464" width="13" height="1" fill="#fff"/>
<rect x="1284" y="464" width="13" height="1" fill="#A5A5A5" fill-opacity="0.45"/>
<rect x="1284" y="465" width="13" height="174" fill="#A5A5A5"/>
<text x="1273.97" y="663.2" class="a" text-anchor="middle">D</text>
<rect x="1337.8" y="478.1" width="9" height="8.8" fill="#4472C4"/>
<text x="1350.2" y="486.1" class="l" textLength="92" lengthAdjust="spacing">Count of Type2</text>
<rect x="1337.8" y="506" width="9" height="8.8" fill="#ED7D31"/>
<text x="1350.2" y="514" class="l" textLength="72" lengthAdjust="spacing">Max of Max</text>
<rect x="1337.8" y="533.8" width="9" height="8.8" fill="#A5A5A5"/>
<text x="1350.2" y="541.8" class="l" textLength="95" lengthAdjust="spacing">Sum of Amount</text>
<text x="1340.85" y="670" class="t" textLength="73.55" lengthAdjust="spacingAndGlyphs">Hide All</text>
</svg>
</body>
</html>
